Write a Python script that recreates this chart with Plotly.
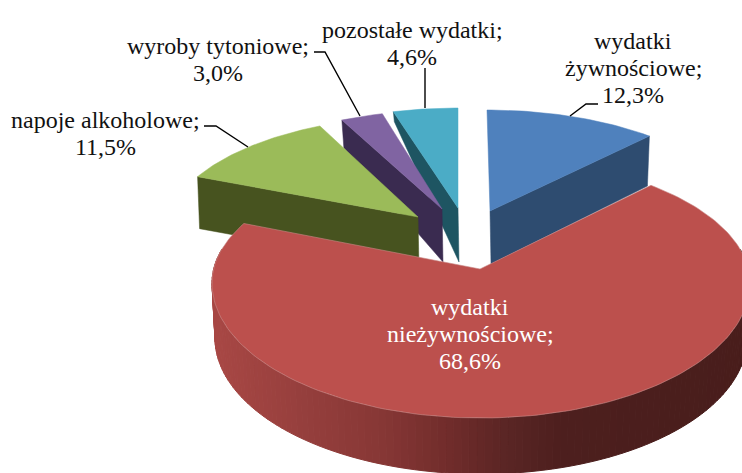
import math
import plotly.graph_objects as go

# ---- data ----
categories = ["wydatki żywnościowe", "wydatki nieżywnościowe", "napoje alkoholowe",
              "wyroby tytoniowe", "pozostałe wydatki"]
values = [12.3, 68.6, 11.5, 3.0, 4.6]
label_lines = [["wydatki", "żywnościowe;"], ["wydatki", "nieżywnościowe;"], ["napoje alkoholowe;"],
               ["wyroby tytoniowe;"], ["pozostałe wydatki;"]]

# ---- look ----
face_colors = ["#4F81BD", "#BC504D", "#9BBB59", "#8064A2", "#4BACC6"]
wall_colors = ["#2E4C70", "#7A3230", "#47531F", "#3A2B50", "#1E5562"]
red_wall_stops = [(205, "#AA4845"), (300, "#963F3D"), (380, "#873735"), (450, "#702C2B"),
                  (500, "#5C2625"), (560, "#4D1F1E"), (760, "#481D1B")]

# projected exploded geometry of every slice
cx = [487, 481, 425, 447, 458]
cy = [226, 283, 231, 226, 224]
rx = [257, 269, 258, 258, 258]
ry = [116, 135, 115, 116, 116]
ry_far = [116, 126, 115, 116, 116]
ax = [490, 480, 418, 442, 458]
ay = [211, 269, 217, 209, 208]
d_apex = [53, 0, 52, 53, 54]
d_outer = [50, 0, 52, 28, 10]
d_shift = [-2, 0, 2, 2, 1]
PERSP = 0.875
RED_DEPTH = 55

label_x = [633, 470, 105, 218, 412]
label_top = [41, 307, 120, 46, 30]
LINE_GAP = 27
label_col = ["#111", "#fff", "#111", "#111", "#111"]
leaders = [([570, 586, 598], [116, 104, 104]),
           ([248, 216, 204], [147, 126, 126]),
           ([360, 325, 314], [116, 52, 52]),
           ([425, 425], [108, 68])]

fig = go.Figure()


def phi(theta):
    return 2 * math.atan2(PERSP * math.sin(theta / 2), math.cos(theta / 2))


def rim_phi(i, p):
    c = math.cos(p)
    r = ry_far[i] if c > 0 else ry[i]
    return cx[i] + rx[i] * math.sin(p), cy[i] - r * c


def rim(i, theta):
    return rim_phi(i, phi(theta))


def poly(xs, ys, color, line=None, lw=0.5):
    fig.add_trace(go.Scatter(x=xs, y=ys, mode="lines", fill="toself", fillcolor=color,
                             line=dict(color=line or color, width=lw), hoverinfo="skip",
                             showlegend=False))


def lerp_col(x):
    s = red_wall_stops
    for (a, ca), (b, cb) in zip(s, s[1:]):
        if a <= x <= b:
            t = (x - a) / (b - a)
            c = [round(int(ca[k:k + 2], 16) * (1 - t) + int(cb[k:k + 2], 16) * t) for k in (1, 3, 5)]
            return "rgb(%d,%d,%d)" % tuple(c)
    return s[-1][1] if x > s[-1][0] else s[0][1]


# slice angles from the values, clockwise from 12 o'clock
total = sum(values)
starts, ends = [], []
acc = 0.0
for v in values:
    starts.append(acc / total * 2 * math.pi)
    acc += v
    ends.append(acc / total * 2 * math.pi)

# far slices first, the big near slice last
for i in [4, 3, 2, 0]:
    t0, t1 = starts[i], ends[i]
    corner = t1 if i == 0 else t0   # the cut wall that faces the viewer
    ox, oy = rim(i, corner)
    poly([ax[i], ox, ox + d_shift[i], ax[i] + 1, ax[i]],
         [ay[i], oy, oy + d_outer[i], ay[i] + d_apex[i], ay[i]], wall_colors[i])
    n = 40
    pts = [rim(i, t0 + (t1 - t0) * k / n) for k in range(n + 1)]
    poly([ax[i]] + [p[0] for p in pts] + [ax[i]], [ay[i]] + [p[1] for p in pts] + [ay[i]],
         face_colors[i])

# big slice: shaded rim wall, then the top face
i = 1
t0, t1 = starts[i], ends[i]
n = 170
wall_rx = rx[i] - 3
wall_ry = ry[i] + 1
ps = [phi(t0 + (t1 - t0) * k / n) for k in range(n + 1)]
for a, b in zip(ps, ps[1:]):
    if math.cos(a) > 0.25 and math.cos(b) > 0.25:
        continue
    xa, ya = rim_phi(i, a)
    xb, yb = rim_phi(i, b)
    xc, yc = cx[i] + wall_rx * math.sin(b), cy[i] + RED_DEPTH - wall_ry * math.cos(b)
    xd, yd = cx[i] + wall_rx * math.sin(a), cy[i] + RED_DEPTH - wall_ry * math.cos(a)
    poly([xa, xb, xc, xd, xa], [ya, yb, yc, yd, ya], lerp_col((xa + xb) / 2), lw=1)

pts = [rim_phi(i, p) for p in ps]
poly([ax[i]] + [p[0] for p in pts] + [ax[i]], [ay[i]] + [p[1] for p in pts] + [ay[i]],
     face_colors[i], line="#C98A88", lw=0.6)

for lx, ly in leaders:
    fig.add_trace(go.Scatter(x=lx, y=ly, mode="lines", line=dict(color="#000", width=1.4),
                             hoverinfo="skip", showlegend=False))

for k, (lines, v) in enumerate(zip(label_lines, values)):
    all_lines = lines + [f"{v:.1f}".replace(".", ",") + "%"]
    for j, line in enumerate(all_lines):
        fig.add_annotation(x=label_x[k], y=label_top[k] + j * LINE_GAP, text=line, showarrow=False,
                           xanchor="center", yanchor="middle",
                           font=dict(family="Liberation Serif", size=24, color=label_col[k]))

fig.update_layout(
    width=742, height=473, autosize=False,
    margin=dict(l=0, r=0, t=0, b=0),
    paper_bgcolor="white", plot_bgcolor="white", showlegend=False,
    xaxis=dict(range=[0, 742], visible=False, fixedrange=True),
    yaxis=dict(range=[473, 0], visible=False, fixedrange=True),
)
fig.write_html("out.html", config={"displayModeBar": False},
               post_script="document.body.style.margin='0';document.documentElement.style.overflow='hidden';")
